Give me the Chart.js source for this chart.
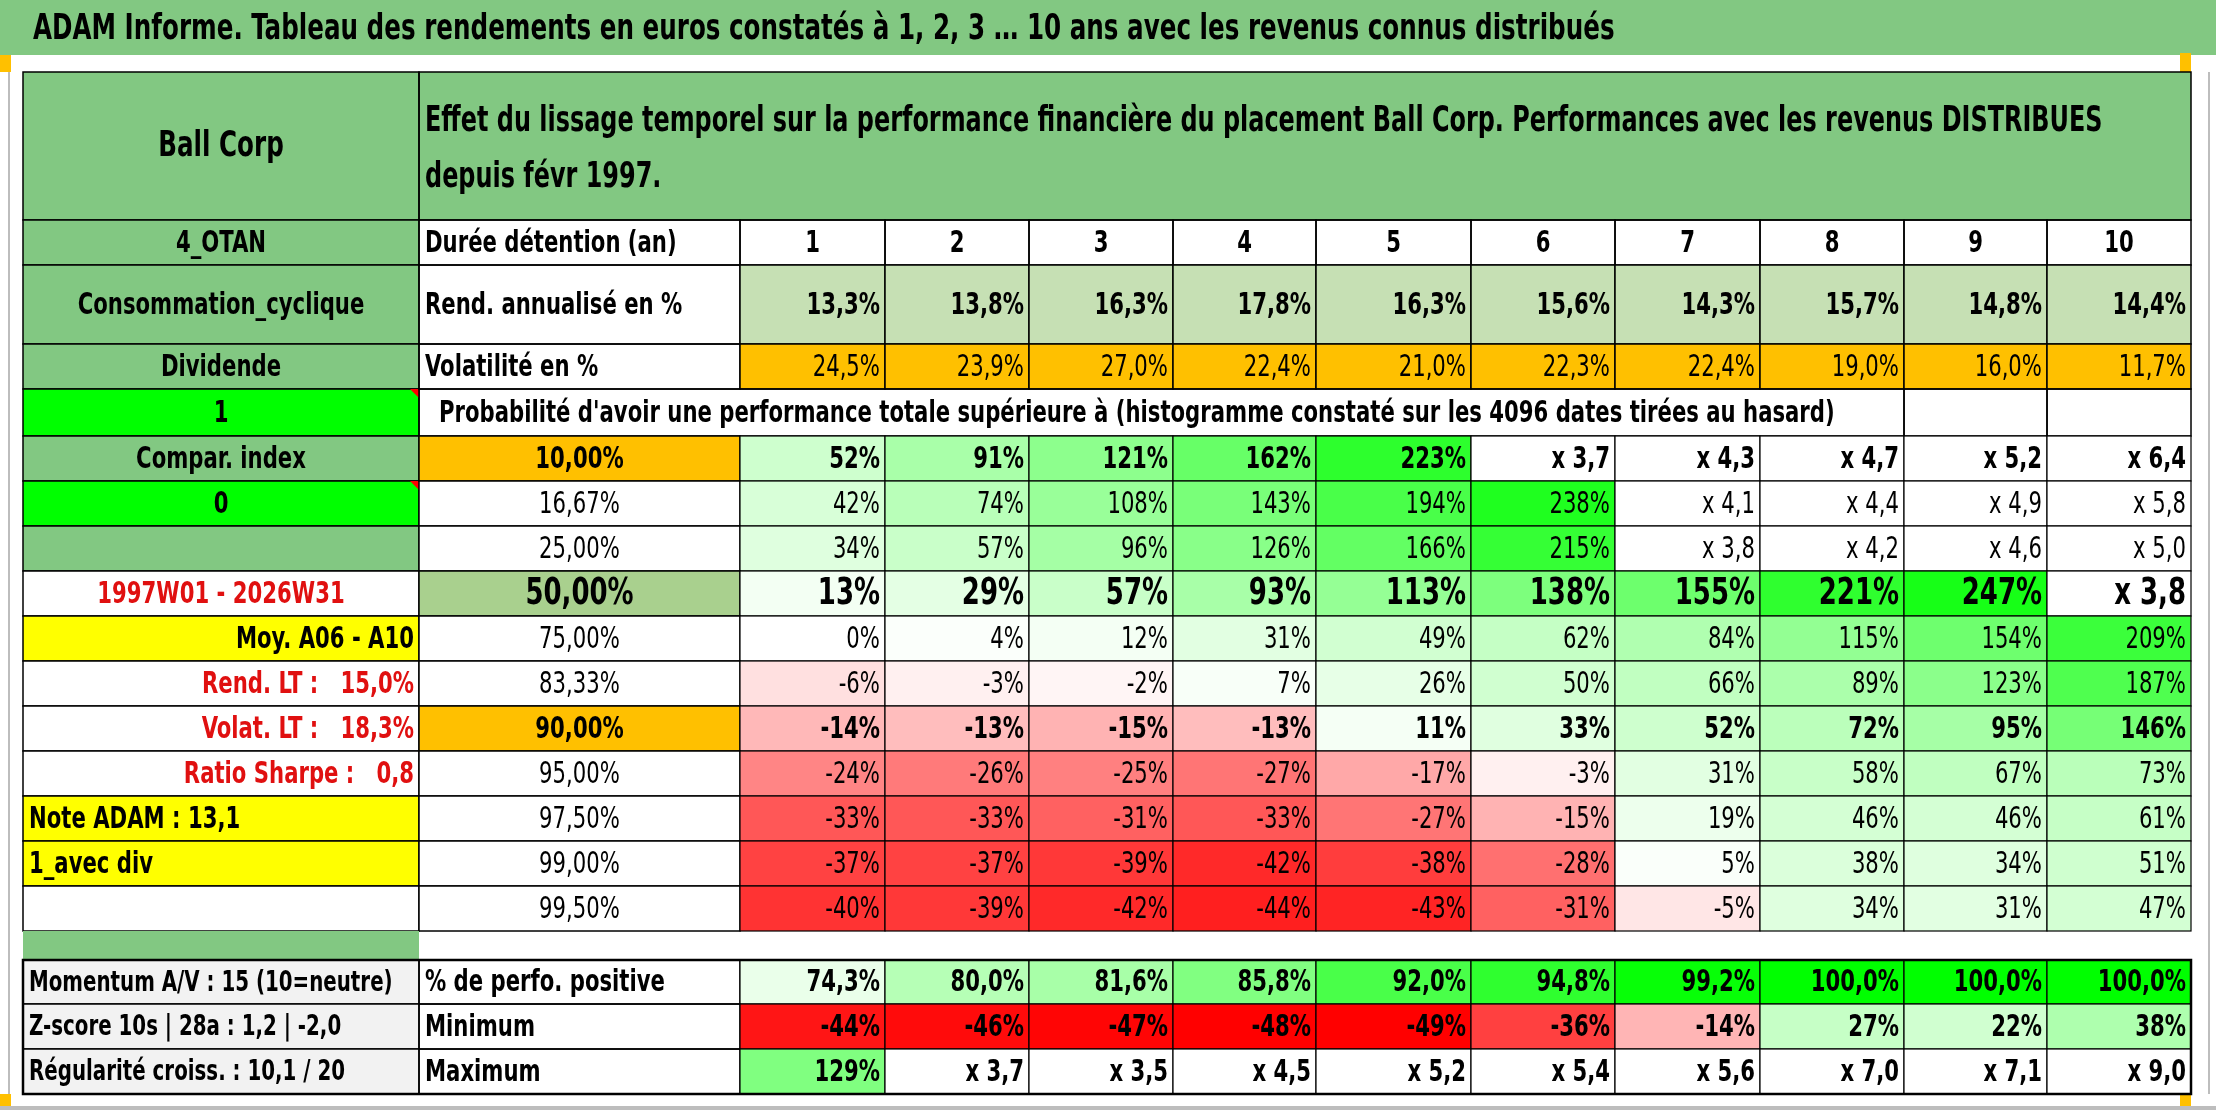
<!DOCTYPE html>
<html><head><meta charset="utf-8">
<script src="https://cdn.jsdelivr.net/npm/chart.js@4.4.0/dist/chart.umd.min.js"></script>
<style>html,body{margin:0;padding:0;background:#fff;}#wrap{width:2216px;height:1110px;}</style>
</head><body><div id="wrap"><canvas id="tbl" width="2216" height="1110"></canvas></div>
<script>
/* ADAM table drawn on a Chart.js canvas through hidden linear scales */

var titleText  = 'ADAM Informe. Tableau des rendements en euros constatés à 1, 2, 3 … 10 ans avec les revenus connus distribués';
var headLine1  = 'Effet du lissage temporel sur la performance financière du placement Ball Corp. Performances avec les revenus DISTRIBUES';
var headLine2  = 'depuis févr 1997.';
var probText   = "Probabilité d'avoir une performance totale supérieure à (histogramme constaté sur les 4096 dates tirées au hasard)";
var horizons   = ['1','2','3','4','5','6','7','8','9','10'];
var rendAnn    = [13.3, 13.8, 16.3, 17.8, 16.3, 15.6, 14.3, 15.7, 14.8, 14.4];
var volat      = [24.5, 23.9, 27.0, 22.4, 21.0, 22.3, 22.4, 19.0, 16.0, 11.7];
var quantiles  = ['10,00%','16,67%','25,00%','50,00%','75,00%','83,33%','90,00%','95,00%','97,50%','99,00%','99,50%'];
var quantRows  = [
  ['52%','91%','121%','162%','223%','x 3,7','x 4,3','x 4,7','x 5,2','x 6,4'],
  ['42%','74%','108%','143%','194%','238%','x 4,1','x 4,4','x 4,9','x 5,8'],
  ['34%','57%','96%','126%','166%','215%','x 3,8','x 4,2','x 4,6','x 5,0'],
  ['13%','29%','57%','93%','113%','138%','155%','221%','247%','x 3,8'],
  ['0%','4%','12%','31%','49%','62%','84%','115%','154%','209%'],
  ['-6%','-3%','-2%','7%','26%','50%','66%','89%','123%','187%'],
  ['-14%','-13%','-15%','-13%','11%','33%','52%','72%','95%','146%'],
  ['-24%','-26%','-25%','-27%','-17%','-3%','31%','58%','67%','73%'],
  ['-33%','-33%','-31%','-33%','-27%','-15%','19%','46%','46%','61%'],
  ['-37%','-37%','-39%','-42%','-38%','-28%','5%','38%','34%','51%'],
  ['-40%','-39%','-42%','-44%','-43%','-31%','-5%','34%','31%','47%']
];
var pctPositive = [74.3, 80.0, 81.6, 85.8, 92.0, 94.8, 99.2, 100.0, 100.0, 100.0];
var minimum     = [-44, -46, -47, -48, -49, -36, -14, 27, 22, 38];
var maximum     = ['129%','x 3,7','x 3,5','x 4,5','x 5,2','x 5,4','x 5,6','x 7,0','x 7,1','x 9,0'];
var leftLabels  = ['Ball Corp','4_OTAN','Consommation_cyclique','Dividende','1','Compar. index','0','',
                   '1997W01 - 2026W31','Moy. A06 - A10','Rend. LT :   15,0%','Volat. LT :   18,3%',
                   'Ratio Sharpe :   0,8','Note ADAM : 13,1','1_avec div',''];
var bottomLabels = ['Momentum A/V : 15 (10=neutre)','Z-score 10s | 28a : 1,2 | -2,0','Régularité croiss. : 10,1 / 20'];
var bottomNames  = ['% de perfo. positive','Minimum','Maximum'];

/* layout */
var colEdges = [23, 419, 740, 885, 1029, 1173, 1316, 1471, 1615, 1760, 1904, 2047, 2191];
var rowEdges = [72, 220, 265, 344, 389, 436, 481, 526, 571, 616, 661, 706, 751, 796, 841, 886, 931, 960, 1004, 1049, 1094];
var FONT = '"DejaVu Sans Condensed","Liberation Sans Narrow",sans-serif';
var SQUEEZE = 0.76;
var GREEN = '#82c882';

function fmt1(v) { return v.toFixed(1).replace('.', ',') + '%'; }
function mix(a, b, t) {
  t = Math.max(0, Math.min(1, t));
  return 'rgb(' + [0,1,2].map(function(i) { return Math.round(a[i] + (b[i] - a[i]) * t); }).join(',') + ')';
}
function heat(s) {
  if (s.charAt(0) === 'x') return '#ffffff';
  var v = parseFloat(s);
  if (v >= 0) return mix([255,255,255], [20,255,20], v / 250);
  return mix([255,255,255], [255,0,0], -v / 50);
}

var tablePlugin = {
  id: 'tablePlugin',
  afterDraw: function(chart) {
    var ctx = chart.ctx, sx = chart.scales.x, sy = chart.scales.y;
    function X(i) { return sx.getPixelForValue(colEdges[i]); }
    function Y(j) { return sy.getPixelForValue(rowEdges[j]); }
    function fill(c0, c1, r0, r1, col) {
      ctx.fillStyle = col; ctx.fillRect(X(c0), Y(r0), X(c1) - X(c0), Y(r1) - Y(r0));
    }
    function box(c0, c1, r0, r1, w) {
      ctx.strokeStyle = '#000'; ctx.lineWidth = w || 1.5;
      ctx.strokeRect(X(c0), Y(r0), X(c1) - X(c0), Y(r1) - Y(r0));
    }
    function put(s, x, y, align, size, bold, color) {
      ctx.save();
      ctx.font = (bold ? 'bold ' : '') + size + 'px ' + FONT;
      ctx.fillStyle = color || '#000';
      ctx.textBaseline = 'middle';
      ctx.textAlign = align;
      ctx.translate(x, y); ctx.scale(SQUEEZE, 1);
      ctx.fillText(s, 0, 0);
      ctx.restore();
    }
    function text(s, c0, c1, r, align, size, bold, color) {
      var y = (Y(r) + Y(r + 1)) / 2 + 1;
      var x = align === 'left' ? X(c0) + 6 : align === 'right' ? X(c1) - 5 : (X(c0) + X(c1)) / 2;
      put(s, x, y, align, size, bold, color);
    }
    ctx.save();
    /* title band */
    ctx.fillStyle = GREEN; ctx.fillRect(0, 0, 2216, sy.getPixelForValue(55));
    put(titleText, 33, sy.getPixelForValue(30), 'left', 36, true);
    ctx.fillStyle = '#ffc000';
    ctx.fillRect(0, sy.getPixelForValue(55), 11, 17); ctx.fillRect(2180, sy.getPixelForValue(53), 11, 19);
    ctx.fillRect(0, sy.getPixelForValue(1094), 11, 16); ctx.fillRect(2180, sy.getPixelForValue(1090), 11, 20);
    ctx.fillStyle = '#bdbdbd'; ctx.fillRect(8, 72, 2, 1022); ctx.fillRect(2208, 72, 2, 1022);
    ctx.fillRect(0, 1106, 2216, 4);

    /* header */
    fill(0, 12, 0, 1, GREEN);
    text(leftLabels[0], 0, 1, 0, 'center', 36, true);
    put(headLine1, X(1) + 6, sy.getPixelForValue(122), 'left', 35, true);
    put(headLine2, X(1) + 6, sy.getPixelForValue(178), 'left', 35, true);
    box(0, 1, 0, 1); box(1, 12, 0, 1);

    /* left column */
    var leftFill = [GREEN, GREEN, GREEN, GREEN, '#00ff00', GREEN, '#00ff00', GREEN,
                    '#ffffff', '#ffff00', '#ffffff', '#ffffff', '#ffffff', '#ffff00', '#ffff00', '#ffffff'];
    var leftAlign = ['center','center','center','center','center','center','center','center',
                     'center','right','right','right','right','left','left','left'];
    var leftColor = ['#000','#000','#000','#000','#000','#000','#000','#000',
                     '#e01010','#000','#e01010','#e01010','#e01010','#000','#000','#000'];
    for (var r = 1; r < 16; r++) {
      fill(0, 1, r, r + 1, leftFill[r]);
      text(leftLabels[r], 0, 1, r, leftAlign[r], 31, true, leftColor[r]);
      box(0, 1, r, r + 1);
    }
    /* red comment triangles */
    [4, 6].forEach(function(r) {
      ctx.fillStyle = '#ff0000'; ctx.beginPath();
      ctx.moveTo(X(1) - 9, Y(r)); ctx.lineTo(X(1), Y(r)); ctx.lineTo(X(1), Y(r) + 9); ctx.fill();
    });

    /* horizon header row */
    text('Durée détention (an)', 1, 2, 1, 'left', 31, true);
    box(1, 2, 1, 2);
    horizons.forEach(function(h, i) { text(h, i + 2, i + 3, 1, 'center', 31, true); box(i + 2, i + 3, 1, 2); });

    /* annual return / volatility */
    text('Rend. annualisé en %', 1, 2, 2, 'left', 31, true); box(1, 2, 2, 3);
    text('Volatilité en %', 1, 2, 3, 'left', 31, true); box(1, 2, 3, 4);
    rendAnn.forEach(function(v, i) { fill(i + 2, i + 3, 2, 3, '#c6e0b4'); text(fmt1(v), i + 2, i + 3, 2, 'right', 31, true); box(i + 2, i + 3, 2, 3); });
    volat.forEach(function(v, i) { fill(i + 2, i + 3, 3, 4, '#ffc000'); text(fmt1(v), i + 2, i + 3, 3, 'right', 31, false); box(i + 2, i + 3, 3, 4); });

    /* probability caption row */
    put(probText, X(1) + 20, (Y(4) + Y(5)) / 2 + 1, 'left', 31, true);
    box(1, 10, 4, 5); box(10, 11, 4, 5); box(11, 12, 4, 5);

    /* quantile rows */
    var qFill = { 0: '#ffc000', 3: '#a9d08e', 6: '#ffc000' };
    var qBold = { 0: true, 3: true, 6: true };
    quantiles.forEach(function(q, k) {
      var r = k + 5;
      var big = k === 3 ? 38 : 31;
      fill(1, 2, r, r + 1, qFill[k] || '#ffffff');
      text(q, 1, 2, r, 'center', big, !!qBold[k]);
      box(1, 2, r, r + 1);
      quantRows[k].forEach(function(s, i) {
        fill(i + 2, i + 3, r, r + 1, heat(s));
        text(s, i + 2, i + 3, r, 'right', big, !!qBold[k]);
        box(i + 2, i + 3, r, r + 1, 1.2);
      });
    });

    /* spacer */
    fill(0, 1, 16, 17, GREEN);

    /* bottom rows */
    var bottomCells = [
      pctPositive.map(function(v) { return { s: fmt1(v), c: mix([255,255,255], [0,255,0], (v - 72) / 28) }; }),
      minimum.map(function(v) { return { s: v + '%', c: v < 0 ? mix([255,255,255], [255,0,0], -v / 48) : mix([255,255,255], [170,255,170], v / 40) }; }),
      maximum.map(function(s) { return { s: s, c: s.charAt(0) === 'x' ? '#ffffff' : '#80ff80' }; })
    ];
    for (var b = 0; b < 3; b++) {
      var rr = 17 + b;
      fill(0, 1, rr, rr + 1, '#f2f2f2');
      text(bottomLabels[b], 0, 1, rr, 'left', 29, true);
      box(0, 1, rr, rr + 1);
      text(bottomNames[b], 1, 2, rr, 'left', 31, true);
      box(1, 2, rr, rr + 1);
      bottomCells[b].forEach(function(cell, i) {
        fill(i + 2, i + 3, rr, rr + 1, cell.c);
        text(cell.s, i + 2, i + 3, rr, 'right', 31, true);
        box(i + 2, i + 3, rr, rr + 1, 1.2);
      });
    }
    box(0, 12, 17, 20, 2.5);
    ctx.restore();
  }
};

new Chart(document.getElementById('tbl'), {
  type: 'scatter',
  data: { datasets: [{ data: [] }] },
  options: {
    responsive: false, animation: false, devicePixelRatio: 1,
    layout: { padding: 0 },
    plugins: { legend: { display: false }, tooltip: { enabled: false } },
    scales: {
      x: { type: 'linear', min: 0, max: 2216, display: false },
      y: { type: 'linear', min: 0, max: 1110, reverse: true, display: false }
    }
  },
  plugins: [tablePlugin]
});
</script></body></html>
